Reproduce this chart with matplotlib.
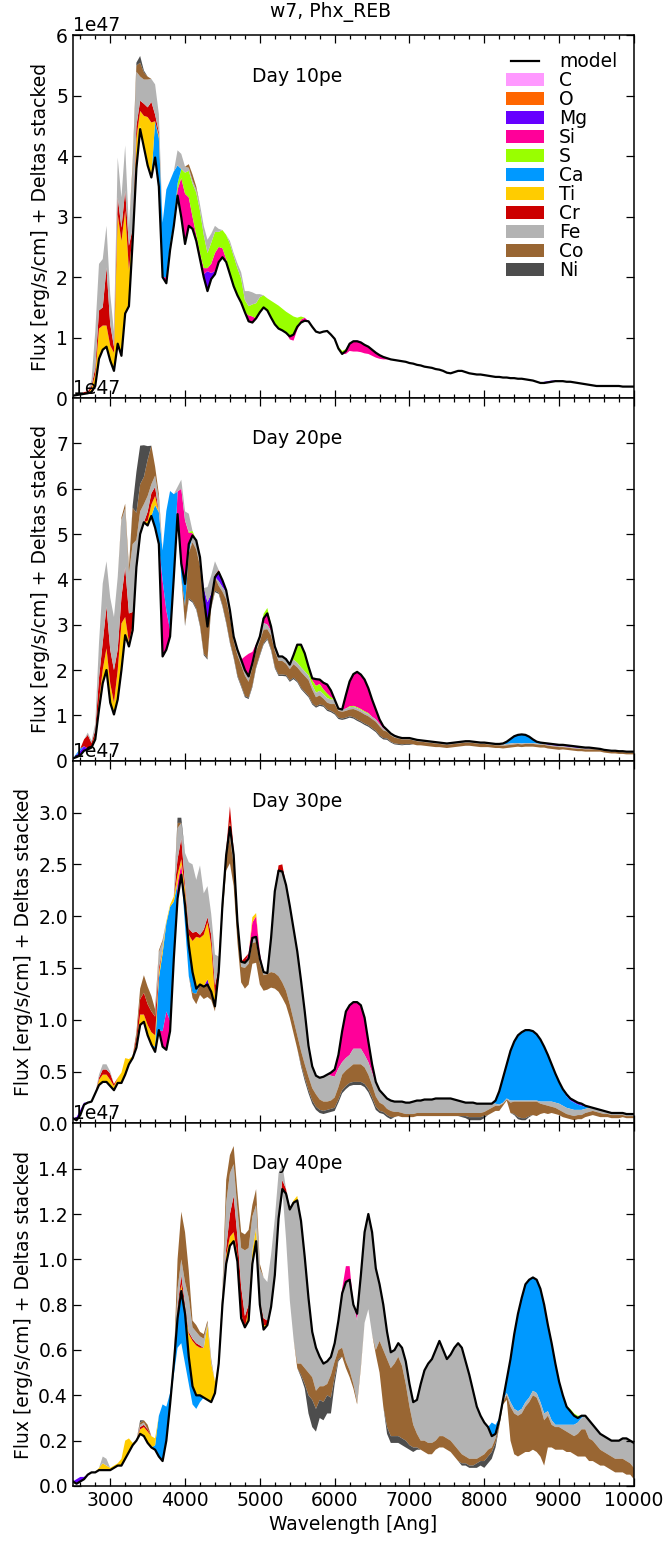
import numpy as np
import matplotlib
matplotlib.use("Agg")
import matplotlib.pyplot as plt
from matplotlib.patches import Patch
from matplotlib.lines import Line2D
from matplotlib.ticker import MultipleLocator
from matplotlib.legend_handler import HandlerLine2D

# ---------------- data (flux in units of 1e47 erg/s/cm) ----------------
WAVE = np.arange(2500, 10001, 50)
SCALE = 1e47
ELEMENTS = ['C', 'O', 'Mg', 'Si', 'S', 'Ca', 'Ti', 'Cr', 'Fe', 'Co', 'Ni']
COLORS = ['#ff99ff', '#ff6600', '#6600ff', '#ff0099', '#99ff00', '#0099ff',
          '#ffcc00', '#cc0000', '#b3b3b3', '#996633', '#4d4d4d']
DAY_LABELS = ['Day 10pe', 'Day 20pe', 'Day 30pe', 'Day 40pe']

M10 = [0.04, 0.05, 0.06, 0.07, 0.08, 0.10, 0.20, 0.65, 0.80, 0.85,
       0.62, 0.45, 0.90, 0.70, 1.40, 1.52, 2.60, 3.80, 4.45, 4.15,
       3.85, 3.65, 3.98, 3.50, 2.00, 1.90, 2.45, 2.85, 3.35, 2.99,
       2.55, 2.85, 2.80, 2.60, 2.30, 2.00, 1.77, 1.97, 2.05, 2.25,
       2.33, 2.25, 2.05, 1.85, 1.70, 1.58, 1.42, 1.27, 1.25, 1.32,
       1.42, 1.50, 1.45, 1.33, 1.22, 1.15, 1.12, 1.08, 1.02, 1.05,
       1.18, 1.25, 1.28, 1.27, 1.18, 1.10, 1.08, 1.10, 1.11, 1.05,
       0.98, 0.82, 0.73, 0.78, 0.90, 0.94, 0.94, 0.92, 0.88, 0.85,
       0.80, 0.75, 0.71, 0.68, 0.66, 0.64, 0.63, 0.62, 0.61, 0.60,
       0.58, 0.57, 0.55, 0.54, 0.52, 0.51, 0.50, 0.48, 0.47, 0.45,
       0.42, 0.41, 0.43, 0.45, 0.45, 0.43, 0.41, 0.40, 0.39, 0.39,
       0.38, 0.37, 0.36, 0.35, 0.35, 0.34, 0.34, 0.33, 0.33, 0.32,
       0.32, 0.31, 0.30, 0.29, 0.27, 0.25, 0.25, 0.26, 0.27, 0.28,
       0.28, 0.28, 0.27, 0.27, 0.26, 0.25, 0.24, 0.23, 0.22, 0.21,
       0.20, 0.20, 0.20, 0.20, 0.20, 0.20, 0.20, 0.19, 0.19, 0.19,
       0.19]
M20 = [0.05, 0.08, 0.12, 0.22, 0.25, 0.29, 0.47, 1.13, 1.71, 2.00,
       1.28, 1.02, 1.35, 2.00, 2.77, 2.52, 2.88, 4.27, 5.00, 5.26,
       5.19, 5.40, 5.14, 4.78, 2.30, 2.45, 2.74, 4.05, 5.44, 4.35,
       3.90, 4.78, 4.97, 4.86, 4.49, 3.61, 2.96, 3.54, 4.05, 4.16,
       3.98, 3.76, 3.32, 2.74, 2.45, 2.23, 2.00, 1.86, 2.15, 2.52,
       2.74, 3.14, 3.25, 2.96, 2.52, 2.30, 2.30, 2.24, 2.12, 2.33,
       2.56, 2.56, 2.37, 2.08, 1.82, 1.80, 1.79, 1.72, 1.68, 1.55,
       1.35, 1.15, 1.13, 1.45, 1.75, 1.91, 1.96, 1.90, 1.79, 1.60,
       1.35, 1.13, 0.91, 0.76, 0.68, 0.60, 0.55, 0.52, 0.50, 0.50,
       0.50, 0.48, 0.46, 0.45, 0.44, 0.43, 0.42, 0.41, 0.40, 0.39,
       0.38, 0.39, 0.40, 0.41, 0.42, 0.43, 0.43, 0.42, 0.41, 0.40,
       0.40, 0.39, 0.38, 0.37, 0.37, 0.38, 0.42, 0.48, 0.54, 0.57,
       0.58, 0.57, 0.53, 0.47, 0.42, 0.40, 0.39, 0.38, 0.37, 0.36,
       0.35, 0.35, 0.34, 0.33, 0.32, 0.31, 0.30, 0.29, 0.29, 0.28,
       0.27, 0.26, 0.24, 0.23, 0.22, 0.22, 0.21, 0.21, 0.20, 0.20,
       0.20]
M30 = [0.05, 0.03, 0.08, 0.18, 0.20, 0.21, 0.29, 0.37, 0.40, 0.40,
       0.36, 0.32, 0.39, 0.39, 0.47, 0.57, 0.63, 0.73, 0.95, 0.98,
       0.85, 0.76, 0.69, 0.90, 0.74, 0.71, 0.89, 1.59, 2.17, 2.40,
       2.11, 1.72, 1.46, 1.30, 1.34, 1.32, 1.34, 1.27, 1.13, 1.46,
       2.11, 2.59, 2.86, 2.59, 1.95, 1.56, 1.55, 1.59, 1.79, 1.80,
       1.59, 1.46, 1.45, 1.79, 2.24, 2.44, 2.43, 2.30, 2.10, 1.88,
       1.66, 1.38, 1.08, 0.75, 0.55, 0.46, 0.44, 0.45, 0.47, 0.49,
       0.52, 0.66, 0.89, 1.08, 1.14, 1.17, 1.17, 1.14, 1.02, 0.79,
       0.57, 0.40, 0.32, 0.28, 0.24, 0.22, 0.21, 0.21, 0.21, 0.20,
       0.20, 0.21, 0.22, 0.22, 0.23, 0.23, 0.23, 0.24, 0.24, 0.24,
       0.24, 0.24, 0.23, 0.22, 0.21, 0.20, 0.20, 0.20, 0.19, 0.19,
       0.19, 0.19, 0.19, 0.22, 0.31, 0.44, 0.57, 0.70, 0.79, 0.85,
       0.88, 0.90, 0.90, 0.89, 0.86, 0.81, 0.74, 0.66, 0.57, 0.48,
       0.40, 0.33, 0.28, 0.24, 0.22, 0.20, 0.19, 0.17, 0.16, 0.15,
       0.14, 0.13, 0.12, 0.11, 0.10, 0.10, 0.10, 0.10, 0.09, 0.09,
       0.09]
M40 = [0.02, 0.01, 0.02, 0.03, 0.05, 0.06, 0.06, 0.07, 0.07, 0.07,
       0.07, 0.08, 0.09, 0.09, 0.12, 0.15, 0.18, 0.20, 0.23, 0.22,
       0.19, 0.17, 0.16, 0.13, 0.11, 0.20, 0.36, 0.54, 0.74, 0.86,
       0.76, 0.57, 0.44, 0.40, 0.40, 0.39, 0.38, 0.37, 0.41, 0.54,
       0.80, 0.98, 1.06, 1.08, 0.99, 0.74, 0.70, 0.73, 0.98, 1.08,
       0.80, 0.69, 0.71, 0.79, 0.93, 1.18, 1.31, 1.29, 1.22, 1.25,
       1.26, 1.17, 1.01, 0.83, 0.68, 0.61, 0.57, 0.54, 0.55, 0.57,
       0.63, 0.73, 0.85, 0.90, 0.91, 0.80, 0.76, 0.93, 1.12, 1.20,
       1.12, 0.96, 0.89, 0.80, 0.68, 0.59, 0.60, 0.63, 0.61, 0.55,
       0.45, 0.37, 0.38, 0.45, 0.51, 0.54, 0.56, 0.60, 0.64, 0.60,
       0.56, 0.58, 0.61, 0.63, 0.61, 0.55, 0.49, 0.42, 0.35, 0.31,
       0.28, 0.26, 0.22, 0.23, 0.29, 0.38, 0.47, 0.56, 0.67, 0.76,
       0.83, 0.89, 0.91, 0.92, 0.91, 0.87, 0.80, 0.71, 0.63, 0.54,
       0.46, 0.40, 0.35, 0.33, 0.31, 0.30, 0.31, 0.31, 0.29, 0.27,
       0.25, 0.23, 0.22, 0.21, 0.20, 0.20, 0.20, 0.21, 0.21, 0.20,
       0.19]

# element deltas: list of (start wavelength, values on the 50 A grid)
D10_C = [(6250, [0.01, 0.02, 0.02, 0.01])]
D10_MG = [(4250, [0.05, 0.33, 0.10, 0.05]), (8800, [0.02, 0.02, 0.02, 0.01])]
D10_SI = [(3750, [0.10, 0.05, 0.00, 0.10, 0.65, 0.83, 0.47, 0.20, 0.10, 0.10,
                  0.10, 0.05, 0.15, 0.30, 0.25, 0.15, 0.05]),
          (4850, [0.10, 0.10]),
          (5400, [-0.05, -0.10, -0.05, 0.05, 0.05]),
          (6150, [-0.05, -0.12, -0.17, -0.17, -0.16, -0.14, -0.12, -0.10, -0.08,
                  -0.06, -0.04, -0.02])]
D10_S = [(3400, [0.05]),
         (3800, [0.05, 0.05, 0.10, 0.15, 0.35, 0.44, 0.55, 0.70, 0.70, 0.55,
                 0.25, 0.35, 0.35, 0.25, 0.30, 0.40, 0.50, 0.50, 0.45, 0.40,
                 0.20, 0.15, 0.20, 0.25, 0.25, 0.20, 0.20, 0.28, 0.35, 0.38,
                 0.36, 0.35, 0.37, 0.30, 0.15, 0.05]),
         (6050, [0.03, 0.05, 0.03])]
D10_CA = [(3600, [0.60, 0.80, 0.90, 1.45, 1.05, 0.85, 0.30])]
D10_TI = [(2750, [0.05, 0.20, 0.50, 0.40, 0.35, 0.25, 0.30, 2.14, 1.90, 1.70,
                  0.60, 0.10, 0.50, 0.25, 0.52, 0.80, 0.91, 0.00, 0.05])]
D10_CR = [(2650, [0.03, 0.03, 0.05, 0.10, 0.30, 0.30, 0.96, 0.35, 0.10, 0.28,
                  0.22, 0.33, 0.40, 0.10, 0.20, 0.17, 0.20, 0.16, 0.34, 0.11,
                  0.05])]
D10_FE = [(2750, [0.10, 0.60, 0.77, 0.80, 0.69, 0.50, 0.25, 0.66, 0.50, 0.75,
                  0.30, 1.00, 0.90, 0.40, 0.40, 0.46, 0.38, 0.50, 0.30, 0.00,
                  0.00, 0.00, 0.00, 0.25, 0.25, 0.10, 0.05, 0.05, 0.05, 0.10,
                  0.15, 0.22, 0.15, 0.10, 0.05, 0.00, 0.00, 0.05, 0.05, 0.08,
                  0.10, 0.15, 0.25, 0.20, 0.15, 0.05])]
D10_CO = [(3300, [0.10, 0.10, 0.23, 0.12, 0.05]), (4050, [0.06, 0.10, 0.05])]
D10_NI = [(3350, [0.05, 0.11, 0.03])]

D20_MG = [(2550, [0.05, 0.10, 0.10, 0.02]),
          (4250, [0.20, 0.54, 0.15, 0.00, -0.20, -0.15, -0.05]),
          (8750, [-0.01, -0.02, -0.03, -0.03, -0.03, -0.03, -0.03, -0.03, -0.03,
                  -0.03, -0.03, -0.02, -0.02, -0.02, -0.01])]
D20_SI = [(3700, [1.68, 0.87, 0.14, 0.00, 0.50, 1.65, 1.40, 0.25, 0.05]),
          (4800, [0.30, 0.50, 0.25, 0.05]),
          (5050, [-0.10, -0.25, -0.10]),
          (5700, [-0.05, -0.15, -0.10, -0.15, -0.20, -0.15]),
          (6150, [-0.30, -0.55, -0.70, -0.78, -0.76, -0.70, -0.55, -0.38, -0.22,
                  -0.10, -0.05])]
D20_S = [(4050, [0.02, 0.05]),
         (5050, [0.10, 0.12, 0.05]),
         (5450, [-0.10, -0.40, -0.50, -0.40, -0.20, -0.10, -0.15, -0.15, -0.10,
                 -0.10, -0.05]),
         (6200, [-0.02, -0.02, -0.02, -0.02, -0.02, -0.02])]
D20_CA = [(2550, [0.03, 0.05]),
          (3600, [0.50, 0.70, 0.66, 2.19, 3.07, 1.83]),
          (3950, [-0.30, -0.50, -0.20]),
          (8250, [-0.02, -0.05, -0.10, -0.15, -0.18, -0.20, -0.18, -0.14, -0.08,
                  -0.04, -0.02])]
D20_TI = [(2800, [0.10, 0.20, 0.30, 0.48, 0.43, 0.26, 0.65, 1.03, 0.40, 0.10,
                  0.10]),
          (3500, [0.10, 0.25, 0.20])]
D20_CR = [(2650, [0.15, 0.30, 0.10, 0.10, 0.50, 0.60, 0.92, 0.74, 0.72, 0.45,
                  0.58, 1.10, 0.63, 0.30]),
          (3500, [0.20, 0.25, 0.20]),
          (4400, [0.05, 0.05])]
D20_FE = [(2700, [0.05, 0.05, 0.15, 0.77, 1.30, 1.00, 1.15, 1.17, 1.60, 1.70,
                  1.30, 0.88, 1.50, 0.60, 0.50, 0.40, 0.35, 0.20, 0.25, 0.30,
                  0.00, 0.00, 0.00, 0.00, 0.10, 0.20, 0.20, 0.40]),
          (4100, [-0.15, -0.20, -0.20, -0.15]),
          (4300, [0.33, 0.40, 0.30]),
          (4450, [-0.10, -0.10, -0.15, -0.15, -0.10, -0.12, -0.12, -0.12, -0.12, -0.10,
                  -0.10, -0.10, -0.15, -0.10, -0.10, -0.10, -0.10, -0.10, -0.10, -0.10,
                  -0.10, -0.10, -0.10, -0.10, -0.10, -0.10, -0.10, -0.10, -0.10, -0.10,
                  -0.10, -0.10, -0.05, -0.05, -0.05, -0.05, -0.05, -0.05, -0.05, -0.05,
                  -0.05, -0.05, -0.05, -0.05, -0.04, -0.04, -0.04, -0.04, -0.03, -0.03,
                  -0.03, -0.03, -0.03, -0.03, -0.03, -0.03, -0.03, -0.03, -0.03, -0.03,
                  -0.03, -0.03, -0.03, -0.03, -0.03, -0.03, -0.03, -0.03, -0.03, -0.03,
                  -0.03, -0.03, -0.03, -0.03, -0.03, -0.03, -0.03, -0.03, -0.03, -0.03,
                  -0.02, -0.02, -0.02, -0.02, -0.02, -0.02, -0.02, -0.02, -0.02, -0.02,
                  -0.02, -0.02, -0.02, -0.02, -0.02, -0.02, -0.02, -0.02, -0.02, -0.02,
                  -0.02, -0.02, -0.02, -0.02, -0.02, -0.02, -0.02, -0.02, -0.02, -0.02,
                  -0.02, -0.02])]
D20_CO = [(3150, [0.06, 0.10, 0.14, 0.80, 0.60, 0.60, 0.60, 0.80, 0.85, 0.20,
                  0.10]),
          (3950, [0.00, -0.40, -1.00, -1.30, -1.30, -1.30, -1.10, -0.70, -0.15, -0.30,
                  -0.15, -0.30, -0.50, -0.55, -0.35, -0.45, -0.45, -0.45, -0.35, -0.40,
                  -0.35, -0.30, -0.30, -0.20, -0.30, -0.35, -0.30, -0.30, -0.25, -0.25,
                  -0.30, -0.30, -0.35, -0.35, -0.35, -0.30, -0.20, -0.20, -0.15, -0.15,
                  -0.15, -0.20, -0.15, -0.15, -0.15, -0.15, -0.18, -0.20, -0.20, -0.20,
                  -0.20, -0.20, -0.20, -0.20, -0.17, -0.15, -0.14, -0.13, -0.12, -0.11,
                  -0.10, -0.10, -0.09, -0.09, -0.08, -0.08, -0.08, -0.08, -0.08, -0.07,
                  -0.07, -0.07, -0.07, -0.07, -0.07, -0.07, -0.07, -0.07, -0.07, -0.07,
                  -0.07, -0.07, -0.06, -0.06, -0.06, -0.06, -0.06, -0.06, -0.06, -0.06,
                  -0.06, -0.06, -0.06, -0.06, -0.06, -0.06, -0.06, -0.06, -0.06, -0.06,
                  -0.06, -0.06, -0.05, -0.05, -0.05, -0.05, -0.05, -0.05, -0.05, -0.05,
                  -0.05, -0.05, -0.04, -0.04, -0.04, -0.04, -0.04, -0.04, -0.04, -0.04,
                  -0.04, -0.04])]
D20_NI = [(3300, [0.05, 0.90, 0.85, 0.70, 0.30]),
          (4000, [-0.03, -0.03, -0.03, -0.03, -0.03, -0.03, -0.03, -0.03, -0.03, -0.03,
                  -0.03, -0.03, -0.03, -0.03, -0.03, -0.03, -0.03, -0.03, -0.03, -0.03,
                  -0.03, -0.03, -0.03, -0.03, -0.03, -0.03, -0.03, -0.03, -0.03, -0.03,
                  -0.03, -0.03, -0.03, -0.03, -0.03, -0.03, -0.03, -0.03, -0.03, -0.03,
                  -0.03, -0.03, -0.03, -0.03, -0.03, -0.03, -0.03, -0.03, -0.03, -0.03,
                  -0.03, -0.03, -0.03, -0.03, -0.03, -0.02, -0.02, -0.02, -0.02, -0.02,
                  -0.02])]

D30_MG = [(2550, [0.03, 0.05, 0.02]), (4300, [0.05]),
          (9050, [-0.01, -0.02, -0.02, -0.02, -0.02, -0.02, -0.01])]
D30_SI = [(3700, [0.15, 0.37, 0.10, 0.00, 0.15, 0.10, 0.05]),
          (4850, [0.05, 0.15, 0.20, 0.05]),
          (5950, [-0.03, -0.07, -0.13, -0.30, -0.45, -0.48, -0.45, -0.45, -0.42,
                  -0.36, -0.20, -0.08, -0.02])]
D30_CA = [(3600, [0.05, 0.50, 0.75, 0.85, 1.10, 0.55]),
          (4000, [-0.20, -0.30, -0.20, -0.05]),
          (8150, [-0.03, -0.13, -0.24, -0.33, -0.48, -0.57, -0.63, -0.66, -0.68, -0.68,
                  -0.67, -0.64, -0.60, -0.53, -0.45, -0.36, -0.28, -0.21, -0.15, -0.11,
                  -0.08, -0.07, -0.05, -0.04, -0.02, -0.01])]
D30_TI = [(2850, [0.05, 0.07, 0.07, 0.06, 0.04, 0.05, 0.10, 0.16, 0.05, 0.02,
                  0.05, 0.10, 0.07, 0.10, 0.12, 0.11, 0.05, 0.05, 0.02, 0.02,
                  0.05, 0.08, 0.05, 0.10, 0.10, 0.30, 0.50, 0.45, 0.50, 0.55,
                  0.45, 0.10]),
          (4600, [0.05]), (4900, [0.05, 0.03])]
D30_CR = [(2850, [0.02, 0.05, 0.05, 0.06, 0.02]),
          (3350, [0.05, 0.15, 0.21, 0.20, 0.20, 0.18, 0.05]),
          (3900, [0.15, 0.20, 0.05, 0.06, 0.08, 0.05, 0.03, 0.05, 0.05, 0.10,
                  0.10, 0.05, 0.00, 0.05, 0.15, 0.05]),
          (4800, [0.05]), (5250, [0.05, 0.07])]
D30_FE = [(2850, [0.03, 0.05, 0.05, 0.02]),
          (3600, [0.00, 0.15, 0.06, 0.00, 0.00, 0.00, 0.30, 0.15, 0.30, 0.64,
                  0.66, 0.50, 0.67, 0.35, 0.30, 0.20, 0.30, 0.10, 0.05, 0.02]),
          (4600, [-0.10, -0.10, -0.05, -0.05, -0.05, -0.05, -0.05, -0.05, -0.05, -0.03,
                  -0.01, -0.33, -0.79, -1.02, -1.07, -1.02, -0.95, -0.88, -0.81, -0.68,
                  -0.51, -0.30, -0.21, -0.18, -0.21, -0.24, -0.26, -0.24, -0.20, -0.18,
                  -0.12, -0.12, -0.12, -0.15, -0.15, -0.15, -0.12, -0.12, -0.12, -0.12,
                  -0.12, -0.10, -0.10, -0.10, -0.10, -0.10, -0.11, -0.11, -0.11, -0.12,
                  -0.12, -0.12, -0.13, -0.13, -0.13, -0.14, -0.14, -0.14, -0.14, -0.14,
                  -0.13, -0.12, -0.11, -0.10, -0.10, -0.10, -0.09, -0.09, -0.08, -0.06,
                  -0.04, -0.02, -0.01, -0.01, -0.01, -0.02, -0.01, -0.01, -0.01, -0.01,
                  -0.01, -0.01, -0.01, -0.02, -0.03, -0.04, -0.05, -0.05, -0.06, -0.06,
                  -0.06, -0.06, -0.06, -0.05, -0.05, -0.04, -0.04, -0.03, -0.03, -0.03,
                  -0.03, -0.02, -0.02, -0.02, -0.02, -0.02, -0.02, -0.02, -0.02])]
D30_CO = [(3350, [0.05, 0.10, 0.17, 0.17, 0.15, 0.07, 0.02, 0.02]),
          (3900, [0.05]),
          (4100, [-0.05, -0.10, -0.10, -0.12, -0.12, -0.08, -0.05, 0.00, -0.10, -0.15,
                  -0.25, -0.20, -0.15, -0.15, -0.20, -0.20, -0.20, -0.20, -0.20, -0.15,
                  -0.15, -0.15, -0.15, -0.15, -0.15, -0.14, -0.13, -0.13, -0.13, -0.13,
                  -0.13, -0.13, -0.12, -0.12, -0.10, -0.09, -0.08, -0.08, -0.10, -0.12,
                  -0.15, -0.15, -0.15, -0.17, -0.17, -0.17, -0.16, -0.14, -0.12, -0.10,
                  -0.08, -0.07, -0.06, -0.06, -0.05, -0.04, -0.04, -0.03, -0.03, -0.03,
                  -0.03, -0.03, -0.03, -0.03, -0.03, -0.03, -0.03, -0.03, -0.03, -0.03,
                  -0.03, -0.03, -0.03, -0.03, -0.04, -0.04, -0.04, -0.04, -0.04, -0.05,
                  -0.05, -0.05, -0.05, -0.02, -0.01, -0.10, -0.12, -0.15, -0.16, -0.16,
                  -0.14, -0.13, -0.14, -0.10, -0.08, -0.08, -0.06, -0.06, -0.05, -0.05,
                  -0.04, -0.04, -0.04, -0.04, -0.04, -0.04, -0.04, -0.04, -0.04, -0.04,
                  -0.03, -0.03, -0.03, -0.03, -0.03, -0.02, -0.02, -0.02, -0.02])]
D30_NI = [(3900, [0.05, 0.05]),
          (5550, [-0.02, -0.03, -0.03, -0.03, -0.03, -0.03, -0.03, -0.03, -0.03, -0.03,
                  -0.03, -0.03, -0.03, -0.03, -0.03, -0.03, -0.03, -0.03, -0.03, -0.03,
                  -0.03, -0.02, -0.02, -0.02, -0.02]),
          (7700, [-0.01, -0.02, -0.03, -0.03, -0.03, -0.03, -0.02]),
          (8400, [-0.01, -0.02, -0.02, -0.02, -0.01])]

D40_MG = [(2550, [0.02, 0.02, 0.01])]
D40_SI = [(6100, [0.02, 0.07, 0.06, 0.00, -0.03])]
D40_S = [(9150, [0.01, 0.01, 0.01])]
D40_CA = [(3600, [0.02, 0.18, 0.25, 0.15, 0.05, -0.05, -0.13, -0.23, -0.22, -0.12,
                  -0.08, -0.06, -0.03]),
          (8100, [0.06, 0.04, 0.01, 0.00, -0.06, -0.19, -0.33, -0.43, -0.49, -0.52,
                  -0.52, -0.50, -0.50, -0.50, -0.48, -0.38, -0.34, -0.27, -0.19, -0.13,
                  -0.08, -0.06, -0.04, -0.02, -0.01])]
D40_TI = [(2850, [0.01, 0.03, 0.02, 0.01, 0.01, 0.01, 0.03, 0.08, 0.06, 0.01,
                  0.00, 0.02, 0.04, 0.05, 0.05, 0.03, 0.00, 0.00, 0.00, 0.00,
                  0.00, 0.03, 0.03, 0.02, 0.10, 0.20, 0.22, 0.21, 0.22, 0.33,
                  0.17, 0.05, 0.00, 0.00, 0.04, 0.04, 0.04, 0.03, 0.02, 0.00,
                  0.05, 0.06, 0.06, 0.02, 0.02, 0.00, 0.00, 0.00, 0.00, 0.00,
                  0.00, 0.00, 0.01, 0.02])]
D40_CR = [(3400, [0.01, 0.01, 0.01]),
          (3900, [0.02, 0.04, 0.02, 0.01, 0.01, 0.01, 0.01]),
          (4550, [0.03, 0.10, 0.16, 0.08, 0.12, 0.05, 0.02]),
          (5050, [0.03, 0.02]), (5300, [0.04, 0.02])]
D40_FE = [(2900, [0.03, 0.03]), (3400, [0.01, 0.01]),
          (3900, [0.08, 0.07, 0.10, 0.15, 0.05, 0.05, 0.04, 0.04, 0.01, 0.01]),
          (4500, [0.05, 0.20, 0.18, 0.14, 0.12, 0.17, 0.29, 0.25, 0.15, 0.10,
                  0.14, 0.18, 0.17, 0.23, 0.25, 0.20, 0.07]),
          (5350, [-0.20, -0.40, -0.60, -0.72, -0.63, -0.49, -0.33, -0.20, -0.19, -0.13,
                  -0.10, -0.10, -0.08, -0.08, -0.13, -0.24, -0.35, -0.40, -0.35, -0.36,
                  -0.40, -0.40, -0.42, -0.45, -0.36, -0.25, -0.20, -0.12, -0.07, -0.06,
                  -0.06, -0.08, -0.10, -0.10, -0.10, -0.15, -0.25, -0.31, -0.35, -0.37,
                  -0.40, -0.42, -0.38, -0.35, -0.38, -0.43, -0.47, -0.47, -0.42, -0.37,
                  -0.30, -0.23, -0.18, -0.14, -0.10, -0.05, -0.02, -0.01, -0.01, -0.01,
                  -0.02, -0.02, -0.02, -0.02, -0.02, -0.02, -0.02, -0.02, -0.02, -0.03,
                  -0.02, -0.02, -0.01, -0.01, -0.02, -0.03, -0.04, -0.05, -0.05, -0.05,
                  -0.06, -0.08, -0.07, -0.07, -0.07, -0.07, -0.07, -0.07, -0.08, -0.08,
                  -0.09, -0.10, -0.10, -0.11])]
D40_CO = [(3400, [0.01, 0.01, 0.02]),
          (3900, [0.13, 0.21, 0.22, 0.12, 0.03, 0.03, 0.02, 0.02, 0.01, 0.01]),
          (4500, [0.02, 0.10, 0.08, 0.08, 0.08, 0.07, 0.07, 0.08, 0.05, 0.07, 0.02]),
          (5500, [-0.02, -0.05, -0.07, -0.10, -0.10, -0.08, -0.06, -0.07, -0.05, -0.10,
                  -0.07, -0.04, -0.04, -0.03, -0.03, -0.02, -0.01, -0.01, 0.00, 0.00,
                  0.00, -0.02, -0.14, -0.25, -0.30, -0.30, -0.32, -0.35, -0.32, -0.25,
                  -0.17, -0.10, -0.06, -0.04, -0.05, -0.05, -0.05, -0.04, -0.05, -0.05,
                  -0.05, -0.05, -0.05, -0.05, -0.04, -0.03, -0.03, -0.03, -0.02, -0.02,
                  -0.03, -0.03, -0.02, -0.02, -0.02, -0.01, -0.02, -0.15, -0.18, -0.18,
                  -0.18, -0.20, -0.22, -0.24, -0.24, -0.22, -0.20, -0.14, -0.10, -0.10,
                  -0.10, -0.09, -0.09, -0.08, -0.08, -0.10, -0.12, -0.12, -0.10, -0.09,
                  -0.08, -0.07, -0.06, -0.06, -0.06, -0.06, -0.06, -0.06, -0.06, -0.05,
                  -0.05])]
D40_NI = [(3400, [0.01]),
          (5550, [-0.01, -0.02, -0.08, -0.12, -0.10, -0.08, -0.08, -0.08, -0.07, -0.03,
                  -0.01]),
          (6700, [-0.03, -0.03, -0.03, -0.03, -0.03, -0.03, -0.02, -0.02, -0.01]),
          (7700, [-0.01, -0.01, -0.01, -0.01, -0.02, -0.02, -0.03, -0.03, -0.03, -0.02])]

DAY_MODELS = [M10, M20, M30, M40]
DAY_DELTAS = [
    {'C': D10_C, 'Mg': D10_MG, 'Si': D10_SI, 'S': D10_S, 'Ca': D10_CA, 'Ti': D10_TI,
     'Cr': D10_CR, 'Fe': D10_FE, 'Co': D10_CO, 'Ni': D10_NI},
    {'Mg': D20_MG, 'Si': D20_SI, 'S': D20_S, 'Ca': D20_CA, 'Ti': D20_TI,
     'Cr': D20_CR, 'Fe': D20_FE, 'Co': D20_CO, 'Ni': D20_NI},
    {'Mg': D30_MG, 'Si': D30_SI, 'Ca': D30_CA, 'Ti': D30_TI,
     'Cr': D30_CR, 'Fe': D30_FE, 'Co': D30_CO, 'Ni': D30_NI},
    {'Mg': D40_MG, 'Si': D40_SI, 'S': D40_S, 'Ca': D40_CA, 'Ti': D40_TI,
     'Cr': D40_CR, 'Fe': D40_FE, 'Co': D40_CO, 'Ni': D40_NI},
]
YTOPS = [6.0, 8.0, 3.5, 1.6]
YTICKS = [[0, 1, 2, 3, 4, 5, 6], [0, 1, 2, 3, 4, 5, 6, 7],
          [0.0, 0.5, 1.0, 1.5, 2.0, 2.5, 3.0],
          [0.0, 0.2, 0.4, 0.6, 0.8, 1.0, 1.2, 1.4]]


def expand(segments):
    arr = np.zeros(WAVE.size)
    for start, vals in segments:
        i0 = int(round((start - WAVE[0]) / 50.0))
        v = np.asarray(vals, float)[:WAVE.size - i0]
        arr[i0:i0 + v.size] += v
    return arr


class ShortLineHandler(HandlerLine2D):
    def get_xdata(self, legend, xdescent, ydescent, width, height, fontsize):
        x0 = -xdescent + 0.13 * width
        x1 = -xdescent + 0.87 * width
        return np.array([x0, x1]), np.array([x0, x1])


FS = 13.5
plt.rcParams['font.family'] = ['DejaVu Sans']
plt.rcParams['font.size'] = FS

fig = plt.figure(figsize=(6.68, 15.41), dpi=100)
fig.subplots_adjust(left=0.109, right=0.949, top=0.977, bottom=0.0357, hspace=0)
axes = fig.subplots(4, 1, sharex=True)

for k, ax in enumerate(axes):
    base = np.asarray(DAY_MODELS[k], float) * SCALE
    up = base.copy()
    dn = base.copy()
    for el, col in zip(ELEMENTS, COLORS):
        segs = DAY_DELTAS[k].get(el)
        if not segs:
            continue
        d = expand(segs) * SCALE
        p = np.clip(d, 0, None)
        n = np.clip(d, None, 0)
        if p.any():
            ax.fill_between(WAVE, up, up + p, facecolor=col, linewidth=0)
            up = up + p
        if n.any():
            ax.fill_between(WAVE, dn + n, dn, facecolor=col, linewidth=0)
            dn = dn + n
    ax.plot(WAVE, base, color='k', lw=1.6, zorder=5)

    ax.set_xlim(2500, 10000)
    ax.set_ylim(0, YTOPS[k] * SCALE)
    ax.set_yticks(np.asarray(YTICKS[k]) * SCALE)
    ax.xaxis.set_major_locator(MultipleLocator(1000))
    ax.xaxis.set_minor_locator(MultipleLocator(200))
    ax.tick_params(which='both', direction='in', top=True, right=True,
                   labelsize=FS, width=0.9)
    ax.tick_params(which='major', length=6)
    ax.tick_params(which='minor', length=3)
    ax.yaxis.get_offset_text().set_fontsize(FS)
    for s in ax.spines.values():
        s.set_linewidth(1.1)
    ax.set_ylabel('Flux [erg/s/cm] + Deltas stacked', fontsize=FS)
    ax.text(0.319, 0.888, DAY_LABELS[k], transform=ax.transAxes,
            ha='left', va='center', fontsize=FS)

axes[-1].set_xlabel('Wavelength [Ang]', fontsize=FS)

model_handle = Line2D([], [], color='k', lw=1.6, label='model')
handles = [model_handle]
handles += [Patch(facecolor=c, edgecolor='none', label=e)
            for e, c in zip(ELEMENTS, COLORS)]
axes[0].legend(handles=handles, loc='upper right', frameon=False,
               fontsize=FS, labelspacing=0.0, handlelength=2.0,
               handleheight=0.7, handletextpad=0.8, borderaxespad=0.5,
               handler_map={model_handle: ShortLineHandler()})

fig.text(0.495, 1 - 12.0 / 1541, 'w7, Phx_REB', ha='center', va='center',
         fontsize=FS)

fig.savefig('out.png', dpi=100)
